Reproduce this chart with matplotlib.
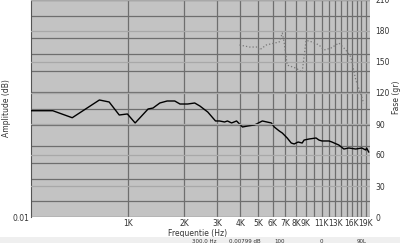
import matplotlib.pyplot as plt
import matplotlib.patches as patches

# amplitude curve (Hz, left log axis)
freq = [300, 393, 500, 700, 790, 895, 990, 1090, 1280, 1360, 1480, 1620, 1780, 1900,
        2090, 2280, 2430, 2680, 2950, 3100, 3300, 3420, 3600, 3830, 4120, 4380, 4780,
        4900, 5270, 5890, 6110, 6500, 6750, 7170, 7540, 7820, 8210, 8630, 8840, 9400,
        10250, 10630, 11030, 12030, 12480, 13600, 14470, 15390, 16770, 18060, 18970,
        19180, 19680]
amp = [0.91, 0.91, 0.676, 1.435, 1.318, 0.759, 0.793, 0.541, 0.98, 1.02, 1.263, 1.375,
       1.375, 1.21, 1.21, 1.263, 1.112, 0.861, 0.589, 0.589, 0.564, 0.589, 0.541, 0.589,
       0.456, 0.475, 0.497, 0.518, 0.589, 0.541, 0.456, 0.385, 0.353, 0.286, 0.231,
       0.222, 0.241, 0.231, 0.262, 0.274, 0.286, 0.262, 0.252, 0.252, 0.241, 0.212,
       0.179, 0.187, 0.179, 0.187, 0.172, 0.187, 0.158]

# phase curve (Hz, degrees)
phase_freq = [3970, 4490, 4960, 5080, 5540, 6500, 6750, 6910, 7170, 8010, 8630, 9060,
              9760, 10630, 11310, 12330, 13600, 14830, 15770, 16770, 18060, 18510]
phase = [166.5, 164.5, 164.5, 161.6, 166.5, 169.4, 178, 168.4, 147, 144, 140, 171,
         169.4, 166.5, 161.6, 163.5, 168.4, 161.6, 155, 132.6, 116, 110]

xticks = [1000 * k for k in range(1, 20)]
xlabels = ['1K', '2K', '3K', '4K', '5K', '6K', '7K', '8K', '9K', '', '11K', '',
           '13K', '', '', '16K', '', '', '19K']
amp_ticks = [0.01, 0.02, 0.05, 0.1, 0.2, 0.5, 1, 2, 5, 10, 20, 50, 100]
amp_labels = ['0.01'] + [''] * 12
phase_ticks = list(range(0, 211, 30))

fig = plt.figure(figsize=(4, 2.43), dpi=100)
fig.patch.set_facecolor('white')
ax = fig.add_axes([31 / 400, 1 - 217 / 243, 339 / 400, 217 / 243])
ax.set_facecolor('#c3c3c3')
ax.set_xscale('log')
ax.set_yscale('log')
ax.set_xlim(300, 20000)
ax.set_ylim(0.01, 100)
ax.set_xticks(xticks)
ax.set_xticklabels(xlabels)
ax.minorticks_off()
ax.set_yticks(amp_ticks)
ax.set_yticklabels(amp_labels)
ax.tick_params(length=0, labelsize=5.5, colors='#333333', pad=1.5)
ax.grid(True, which='major', color='#6e6e6e', linewidth=0.9)
ax.set_axisbelow(True)
for s in ['top', 'right', 'bottom']:
    ax.spines[s].set_visible(False)
ax.spines['left'].set_color('#555555')
ax.plot(freq, amp, color='black', linewidth=1.0, zorder=5)
ax.set_xlabel('Frequentie (Hz)', fontsize=5.5, color='#333333')
ax.xaxis.set_label_coords(0.49, -0.057)
ax.set_ylabel('Amplitude (dB)', fontsize=5.5, color='#333333')
ax.yaxis.set_label_coords(-0.058, 0.5)

ax2 = ax.twinx()
ax2.set_ylim(0, 210)
ax2.set_yticks(phase_ticks)
ax2.tick_params(length=0, labelsize=5.5, colors='#333333', pad=4)
ax2.grid(True, color='#a8a8a8', linewidth=0.9)
for s in ['top', 'right', 'bottom', 'left']:
    ax2.spines[s].set_visible(False)
ax2.plot(phase_freq, phase, color='#787878', linewidth=0.9, linestyle=':')
ax2.set_ylabel('Fase (gr)', fontsize=5.5, color='#333333')
ax2.yaxis.set_label_coords(1.066, 0.553)

# status bar at the bottom
fig.patches.append(patches.Rectangle((0, 0), 1, 6 / 243, transform=fig.transFigure,
                                     facecolor='#efefef', edgecolor='none'))
for x0, w, t in [(190, 35, '300.0 Hz'), (227, 41, '0.00799 dB'), (272, 28, '100'),
                 (318, 33, '0'), (355, 40, '90L')]:
    fig.patches.append(patches.Rectangle((x0 / 400, -0.02), w / 400, 5 / 243,
                                         transform=fig.transFigure, facecolor='white',
                                         edgecolor='#999999', linewidth=0.6))
    fig.text((x0 + 2) / 400, 4.5 / 243, t, fontsize=4, va='top', color='#333333')

fig.savefig('out.png', dpi=100)
